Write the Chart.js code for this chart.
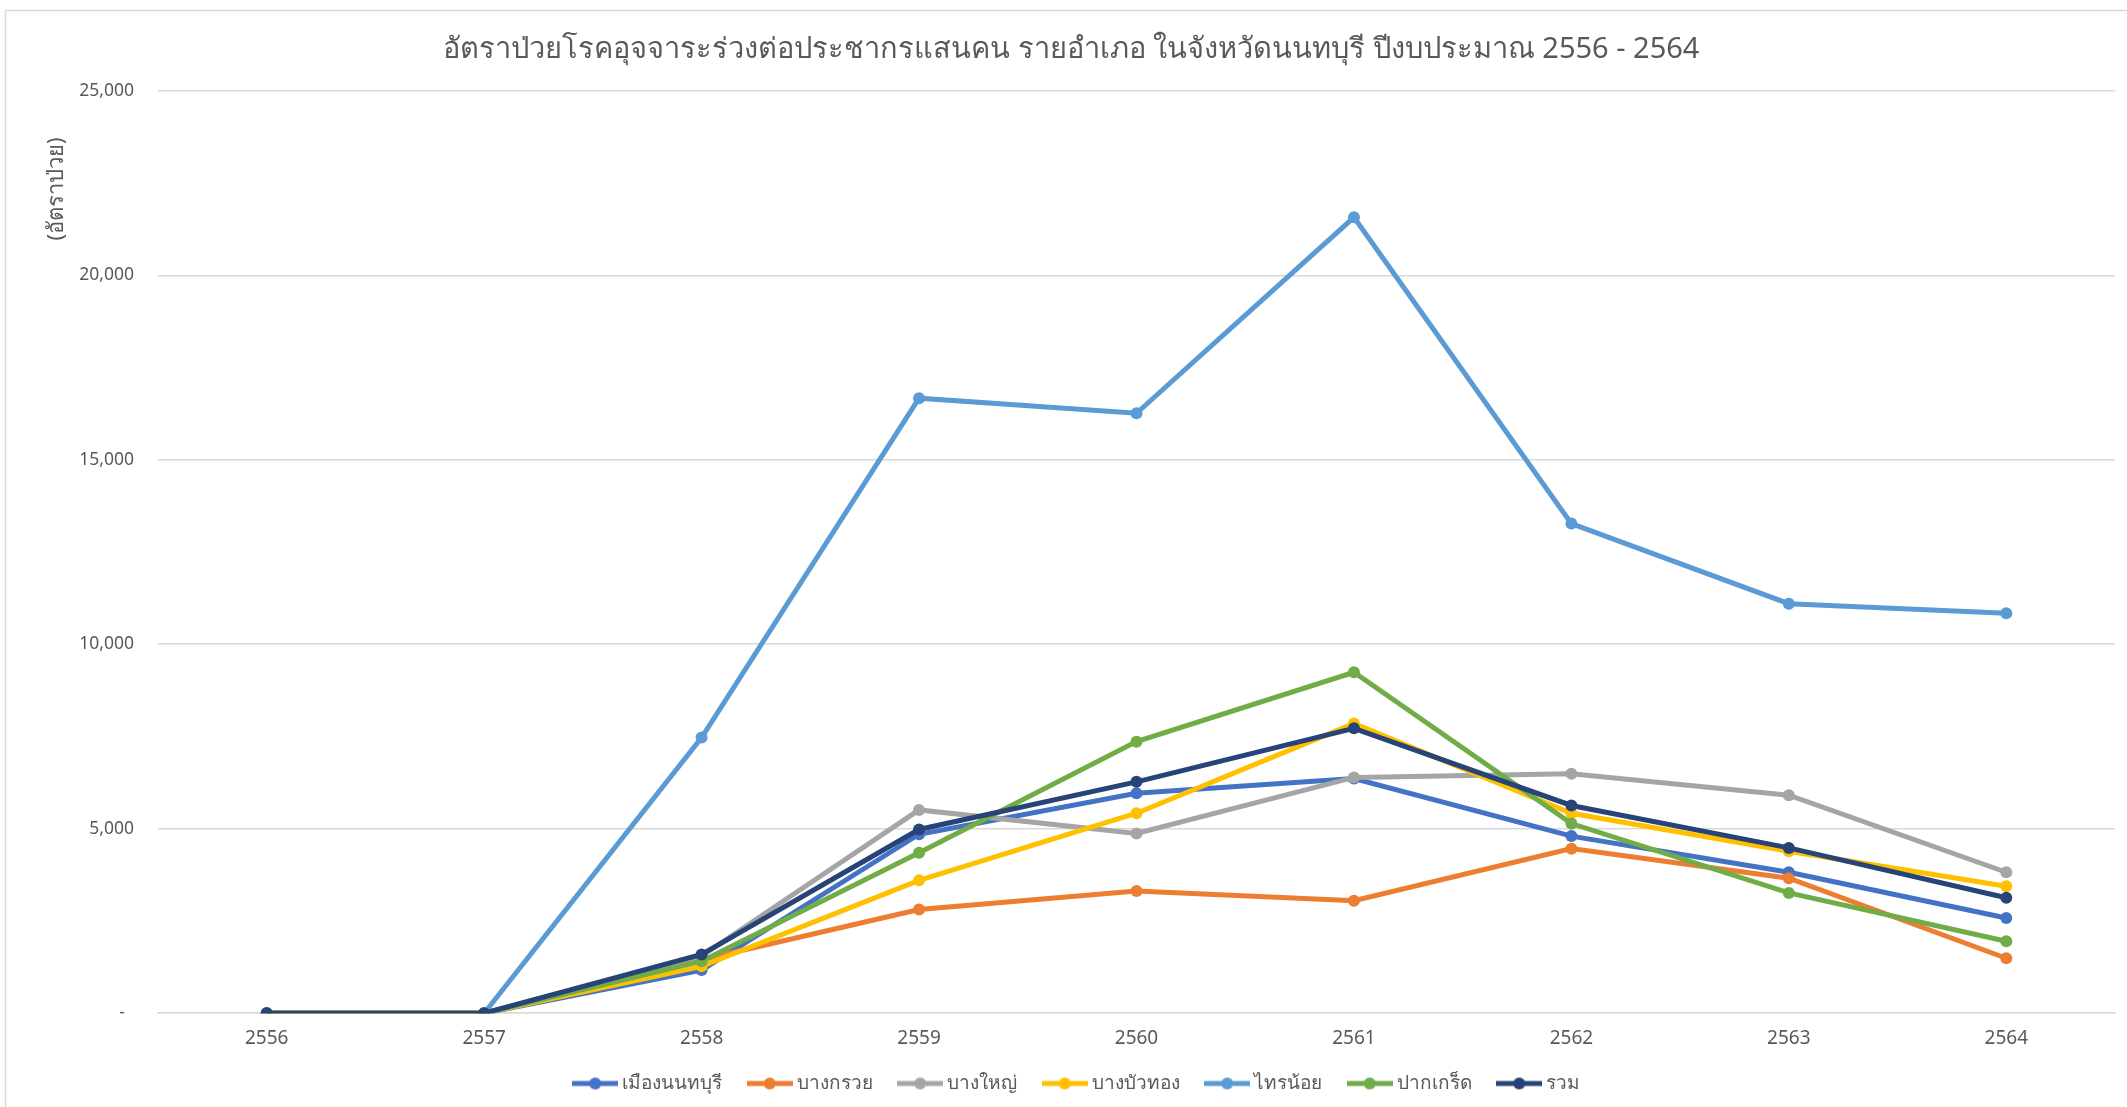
<!DOCTYPE html>
<html>
<head>
<meta charset="utf-8">
<script src="https://cdn.jsdelivr.net/npm/chart.js@4.4.1/dist/chart.umd.min.js"></script>
<style>
  html, body { margin: 0; padding: 0; background: #fff; }
  #wrap { width: 2127px; height: 1107px; position: relative; }
</style>
</head>
<body>
<div id="wrap"><canvas id="rateChart"></canvas></div>
<script>
var years = ['2556', '2557', '2558', '2559', '2560', '2561', '2562', '2563', '2564'];

var muangNonthaburi = [0, 0, 1170, 4850, 5960, 6360, 4800, 3820, 2580];
var bangKruai       = [0, 0, 1450, 2810, 3310, 3050, 4460, 3660, 1490];
var bangYai         = [0, 0, 1550, 5510, 4870, 6390, 6490, 5910, 3820];
var bangBuaThong    = [0, 0, 1270, 3600, 5420, 7850, 5420, 4390, 3440];
var saiNoi          = [0, 0, 7470, 16670, 16260, 21570, 13270, 11100, 10840];
var pakKret         = [0, 0, 1410, 4350, 7360, 9240, 5140, 3260, 1950];
var total           = [0, 0, 1590, 4980, 6270, 7720, 5630, 4480, 3130];

var yTicks = [0, 5000, 10000, 15000, 20000, 25000];

var FONT = "'Noto Sans', 'Open Sans', sans-serif";
var TEXT = '#595959';

var series = [
  { label: 'เมืองนนทบุรี', data: muangNonthaburi, color: '#4472C4' },
  { label: 'บางกรวย', data: bangKruai, color: '#ED7D31' },
  { label: 'บางใหญ่', data: bangYai, color: '#A5A5A5' },
  { label: 'บางบัวทอง', data: bangBuaThong, color: '#FFC000' },
  { label: 'ไทรน้อย', data: saiNoi, color: '#5B9BD5' },
  { label: 'ปากเกร็ด', data: pakKret, color: '#70AD47' },
  { label: 'รวม', data: total, color: '#264478' }
];

// little "line with a dot" swatch for the legend
function legendSwatch(color) {
  var c = document.createElement('canvas');
  c.width = 46; c.height = 14;
  var g = c.getContext('2d');
  g.strokeStyle = color;
  g.lineWidth = 5;
  g.beginPath();
  g.moveTo(0, 7); g.lineTo(46, 7);
  g.stroke();
  g.fillStyle = color;
  g.beginPath();
  g.arc(23, 7, 6, 0, Math.PI * 2);
  g.fill();
  return c;
}

var datasets = series.map(function (s, i) {
  return {
    label: s.label,
    data: s.data,
    borderColor: s.color,
    backgroundColor: s.color,
    borderWidth: 5,
    pointRadius: 6,
    pointHoverRadius: 6,
    pointBorderWidth: 0,
    pointBackgroundColor: s.color,
    tension: 0,
    order: series.length - i, // later series sit on top
    swatch: legendSwatch(s.color)
  };
});

var frame = {
  id: 'frame',
  beforeDraw: function (chart) {
    var ctx = chart.ctx;
    ctx.save();
    ctx.fillStyle = '#fff';
    ctx.fillRect(0, 0, chart.width, chart.height);
    ctx.strokeStyle = '#d9d9d9';
    ctx.lineWidth = 1.5;
    ctx.strokeRect(5.5, 10.5, chart.width + 20, chart.height + 20);
    ctx.restore();
  }
};

// legend row sits a bit right of the canvas centre
var legendNudge = {
  id: 'legendNudge',
  afterLayout: function (chart) {
    if (chart.legend) {
      chart.legend.left += 19;
      chart.legend.right += 19;
    }
  }
};

// y axis caption placed near the top of the axis
var yCaption = {
  id: 'yCaption',
  afterDraw: function (chart) {
    var ctx = chart.ctx;
    ctx.save();
    ctx.translate(57, 189);
    ctx.rotate(-Math.PI / 2);
    ctx.font = '22px ' + FONT;
    ctx.fillStyle = TEXT;
    ctx.textAlign = 'center';
    ctx.textBaseline = 'middle';
    ctx.fillText('(อัตราป่วย)', 0, 0);
    ctx.restore();
  }
};

var ctx = document.getElementById('rateChart').getContext('2d');
var rateChart = new Chart(ctx, {
  type: 'line',
  data: { labels: years, datasets: datasets },
  plugins: [frame, legendNudge, yCaption],
  options: {
    responsive: true,
    maintainAspectRatio: false,
    animation: false,
    layout: { padding: { left: 5, right: 12, top: 0, bottom: 4 } },
    scales: {
      x: {
        offset: true,
        afterFit: function (scale) { scale.height -= 20; },
        grid: { display: false, drawTicks: false },
        border: { display: true, color: '#d9d9d9', width: 1.5 },
        ticks: { color: TEXT, font: { family: FONT, size: 19 }, padding: 14, maxRotation: 0 }
      },
      y: {
        min: 0,
        max: 25000,
        afterFit: function (scale) { scale.width = 153; },
        afterBuildTicks: function (scale) {
          scale.ticks = yTicks.map(function (v) { return { value: v }; });
        },
        grid: { color: '#d9d9d9', lineWidth: 1.5, drawTicks: false },
        border: { display: false },
        ticks: {
          color: TEXT,
          font: { family: FONT, size: 17.5 },
          padding: 24,
          callback: function (v) {
            return v === 0 ? '-  ' : v.toLocaleString('en-US');
          }
        }
      }
    },
    plugins: {
      title: {
        display: true,
        // leading spaces nudge the centred title a little to the right
        text: '   อัตราป่วยโรคอุจจาระร่วงต่อประชากรแสนคน รายอำเภอ ในจังหวัดนนทบุรี ปีงบประมาณ 2556 - 2564',
        color: TEXT,
        font: { family: FONT, size: 29, weight: 'normal' },
        padding: { top: 32, bottom: 24 }
      },
      legend: {
        position: 'bottom',
        labels: {
          usePointStyle: true,
          pointStyleWidth: 35,
          color: TEXT,
          font: { family: FONT, size: 19 },
          padding: 30,
          sort: function (a, b) { return a.datasetIndex - b.datasetIndex; },
          generateLabels: function (chart) {
            var items = Chart.defaults.plugins.legend.labels.generateLabels(chart);
            items.forEach(function (it) {
              it.pointStyle = chart.data.datasets[it.datasetIndex].swatch;
            });
            return items;
          }
        }
      },
      tooltip: { enabled: false }
    }
  }
});
</script>
</body>
</html>
